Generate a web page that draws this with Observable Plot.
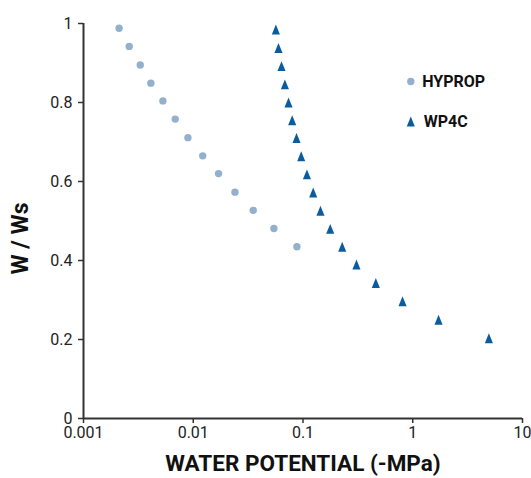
<!DOCTYPE html>
<html><head><meta charset="utf-8">
<script src="https://cdn.jsdelivr.net/npm/d3@7"></script>
<script src="https://cdn.jsdelivr.net/npm/@observablehq/plot@0.6"></script>
<style>body{margin:0;background:#fff;}</style>
</head><body><div id="chart"></div>
<script>
const hypropPotential = [0.00211, 0.00261, 0.00329, 0.00411, 0.00529, 0.00685, 0.00894, 0.0122, 0.0170, 0.0240, 0.0352, 0.0543, 0.0880];
const hypropRatio = [0.988, 0.942, 0.895, 0.849, 0.804, 0.758, 0.711, 0.665, 0.620, 0.573, 0.527, 0.481, 0.435];
const wp4cPotential = [0.0566, 0.0598, 0.0637, 0.0684, 0.0738, 0.0797, 0.0873, 0.0963, 0.1086, 0.1239, 0.1443, 0.177, 0.2276, 0.307, 0.461, 0.807, 1.718, 4.94];
const wp4cRatio = [0.985, 0.938, 0.892, 0.846, 0.800, 0.755, 0.710, 0.664, 0.618, 0.572, 0.526, 0.480, 0.435, 0.390, 0.343, 0.297, 0.250, 0.203];
const xTicks = [0.001, 0.01, 0.1, 1, 10];
const xTickLabels = ["0.001", "0.01", "0.1", "1", "10"];
const yTicks = [0, 0.2, 0.4, 0.6, 0.8, 1];
const yTickLabels = ["0", "0.2", "0.4", "0.6", "0.8", "1"];
const seriesNames = ["HYPROP", "WP4C"];
const xTitle = "WATER POTENTIAL (-MPa)";
const yTitle = "W / Ws";

const hypColor = "#93b0cc";
const wpColor = "#0b5c9e";
const axisColor = "#333";

const tallTriangle = {
  draw(ctx, size) {
    const r = Math.sqrt(size / Math.PI);
    const w = r * 0.9, h = r * 2.2;
    ctx.moveTo(0, -h / 2);
    ctx.lineTo(w, h / 2);
    ctx.lineTo(-w, h / 2);
    ctx.closePath();
  }
};

const hyprop = hypropPotential.map((p, i) => ({p, r: hypropRatio[i]}));
const wp4c = wp4cPotential.map((p, i) => ({p, r: wp4cRatio[i]}));

const chart = Plot.plot({
  width: 531, height: 478,
  marginLeft: 83, marginRight: 9, marginTop: 23, marginBottom: 60,
  style: {fontFamily: "Roboto, sans-serif", fontSize: "16px", color: "#222", background: "#fff", overflow: "visible"},
  x: {type: "log", domain: [0.001, 10]},
  y: {domain: [0, 1]},
  marks: [
    Plot.axisX({ticks: xTicks, tickFormat: d => xTickLabels[xTicks.indexOf(d)], tickSize: 5, tickPadding: 3, label: null, stroke: axisColor, strokeWidth: 1.5, fill: "#222"}),
    Plot.axisY({ticks: yTicks, tickFormat: d => yTickLabels[yTicks.indexOf(d)], tickSize: 5, tickPadding: 6, label: null, stroke: axisColor, strokeWidth: 1.5, fill: "#222"}),
    Plot.ruleX([0.001], {stroke: axisColor, strokeWidth: 2}),
    Plot.ruleY([0], {stroke: axisColor, strokeWidth: 2}),
    Plot.dot(hyprop, {x: "p", y: "r", r: 3.7, fill: hypColor, symbol: "circle"}),
    Plot.dot(wp4c, {x: "p", y: "r", r: 4.5, fill: wpColor, symbol: tallTriangle}),
    Plot.dot([seriesNames[0]], {frameAnchor: "top-left", dx: 327.3, dy: 58, r: 3.7, fill: hypColor, symbol: "circle"}),
    Plot.text([seriesNames[0]], {frameAnchor: "top-left", dx: 338.7, dy: 58, text: d => d, textAnchor: "start", lineAnchor: "middle", fontWeight: 700, fontSize: 16, fill: "#111"}),
    Plot.dot([seriesNames[1]], {frameAnchor: "top-left", dx: 327.3, dy: 98, r: 4.5, fill: wpColor, symbol: tallTriangle}),
    Plot.text([seriesNames[1]], {frameAnchor: "top-left", dx: 340.3, dy: 98, text: d => d, textAnchor: "start", lineAnchor: "middle", fontWeight: 700, fontSize: 16, fill: "#111"}),
    Plot.text([xTitle], {frameAnchor: "bottom", dy: 45, text: d => d, textAnchor: "middle", lineAnchor: "middle", fontSize: 22.5, fontWeight: 700, fill: "#111"}),
    Plot.text([yTitle], {frameAnchor: "left", dx: -63, dy: 17.5, rotate: -90, text: d => d, textAnchor: "middle", lineAnchor: "middle", fontSize: 23, fontWeight: 700, fill: "#111"})
  ]
});
document.getElementById("chart").append(chart);
</script>
</body></html>
